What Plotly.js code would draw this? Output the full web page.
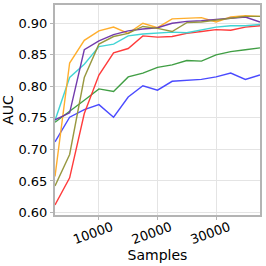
<!DOCTYPE html>
<html>
<head>
<meta charset="utf-8">
<script src="https://cdn.plot.ly/plotly-3.0.1.min.js"></script>
<style>html,body{margin:0;padding:0;background:#fff}#chart{width:266px;height:266px}</style>
</head>
<body>
<div id="chart"></div>
<script>
const samples = [2500, 5000, 7500, 10000, 12500, 15000, 17500, 20000, 22500, 25000, 27500, 30000, 32500, 35000, 37500];
const blueAUC   = [0.712, 0.751, 0.763, 0.771, 0.751, 0.783, 0.801, 0.794, 0.808, 0.809, 0.811, 0.815, 0.821, 0.811, 0.818];
const greenAUC  = [0.743, 0.760, 0.778, 0.796, 0.792, 0.815, 0.821, 0.830, 0.834, 0.841, 0.840, 0.850, 0.855, 0.858, 0.861];
const redAUC    = [0.612, 0.655, 0.757, 0.818, 0.853, 0.860, 0.880, 0.878, 0.879, 0.884, 0.887, 0.890, 0.889, 0.894, 0.896];
const cyanAUC   = [0.746, 0.814, 0.835, 0.863, 0.867, 0.880, 0.883, 0.884, 0.886, 0.885, 0.890, 0.894, 0.896, 0.896, 0.898];
const orangeAUC = [0.657, 0.837, 0.873, 0.888, 0.894, 0.884, 0.900, 0.893, 0.907, 0.908, 0.909, 0.902, 0.910, 0.912, 0.911];
const purpleAUC = [0.747, 0.758, 0.858, 0.872, 0.882, 0.888, 0.891, 0.893, 0.900, 0.903, 0.904, 0.906, 0.908, 0.910, 0.902];
const oliveAUC  = [0.642, 0.692, 0.814, 0.867, 0.879, 0.884, 0.895, 0.892, 0.887, 0.901, 0.902, 0.905, 0.908, 0.911, 0.911];
const xTicks = [10000, 20000, 30000];
const xTickText = ['10000', '20000', '30000'];
const yTicks = [0.60, 0.65, 0.70, 0.75, 0.80, 0.85, 0.90];
const yTickText = ['0.60', '0.65', '0.70', '0.75', '0.80', '0.85', '0.90'];

const series = [
  {y: blueAUC, color: '#4040ff'},
  {y: greenAUC, color: '#36993a'},
  {y: redAUC, color: '#ff3030'},
  {y: cyanAUC, color: '#38d2d2'},
  {y: orangeAUC, color: '#ffaa22'},
  {y: purpleAUC, color: '#6a30a8'},
  {y: oliveAUC, color: '#929236'}
];
const traces = series.map(s => ({
  x: samples, y: s.y, type: 'scatter', mode: 'lines',
  line: {color: s.color, width: 1.4}, opacity: 0.95, showlegend: false, hoverinfo: 'skip'
}));

const layout = {
  width: 266, height: 266,
  margin: {l: 55, r: 6, t: 5, b: 51},
  paper_bgcolor: '#fff', plot_bgcolor: '#fff',
  font: {family: 'DejaVu Sans', size: 13, color: '#000'},
  xaxis: {
    range: [2500, 37500], tickvals: xTicks, ticktext: xTickText, tickangle: -20,
    ticklabelshift: 13, ticklabelstandoff: -5,
    showgrid: true, gridcolor: '#e4e4e4', gridwidth: 1, zeroline: false,
    showline: true, linecolor: '#b4b4b4', linewidth: 2, mirror: true,
    ticks: 'outside', ticklen: 3, tickcolor: '#b4b4b4', tickwidth: 1,
    title: {text: 'Samples', font: {size: 14}, standoff: 1},
    automargin: false
  },
  yaxis: {
    range: [0.596, 0.929], tickvals: yTicks, ticktext: yTickText,
    showgrid: true, gridcolor: '#e4e4e4', gridwidth: 1, zeroline: false,
    showline: true, linecolor: '#b4b4b4', linewidth: 2, mirror: true,
    ticks: 'outside', ticklen: 3, tickcolor: '#b4b4b4', tickwidth: 1,
    title: {text: 'AUC', font: {size: 14}, standoff: 2},
    automargin: false
  }
};
Plotly.newPlot('chart', traces, layout, {staticPlot: true, displayModeBar: false});
</script>
</body>
</html>
